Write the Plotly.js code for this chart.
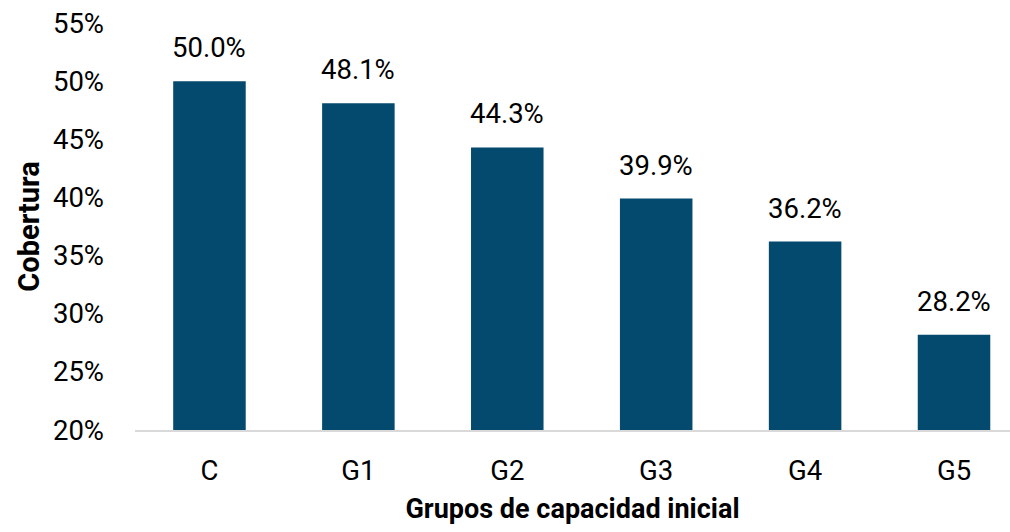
<!DOCTYPE html>
<html>
<head>
<meta charset="utf-8">
<script src="https://cdn.plot.ly/plotly-3.0.1.min.js"></script>
<style>html,body{margin:0;padding:0;background:#fff;}#chart{width:1010px;height:532px;}</style>
</head>
<body>
<div id="chart"></div>
<script>
var categories = ["C", "G1", "G2", "G3", "G4", "G5"];
var coverage = [50.0, 48.1, 44.3, 39.9, 36.2, 28.2];
var yTicks = [20, 25, 30, 35, 40, 45, 50, 55];
var yTickLabels = ["20%", "25%", "30%", "35%", "40%", "45%", "50%", "55%"];

var FONT = 'Roboto, "Liberation Sans", Arial, sans-serif';
var FS = 27.5;

var trace = {
  type: "bar",
  x: categories,
  y: coverage.map(function(v){ return v - 20; }),
  base: 20,
  width: 0.487,
  marker: {color: "#034a6e", line: {width: 0}},
  hoverinfo: "none"
};

var annotations = categories.map(function(c, i){
  return {
    x: c, y: coverage[i], xref: "x", yref: "y",
    text: coverage[i].toFixed(1) + "%",
    showarrow: false, yanchor: "bottom", yshift: 15,
    font: {family: FONT, size: FS, color: "#000"}
  };
});

var layout = {
  width: 1010, height: 532,
  margin: {l: 135, r: 0, t: 22.75, b: 101.5, pad: 0},
  paper_bgcolor: "#fff", plot_bgcolor: "#fff",
  showlegend: false,
  font: {family: FONT, size: FS, color: "#000"},
  xaxis: {
    type: "category",
    range: [-0.5, 5.376],
    showgrid: false, zeroline: false,
    showline: true, linecolor: "#d9d9d9", linewidth: 2,
    ticks: "", ticklabelstandoff: 15,
    tickfont: {family: FONT, size: FS, color: "#000"},
    title: {text: "<b>Grupos de capacidad inicial</b>", standoff: 13,
            font: {family: FONT, size: 27, color: "#000"}}
  },
  yaxis: {
    range: [20, 55],
    tickvals: yTicks, ticktext: yTickLabels,
    showgrid: false, zeroline: false, showline: false,
    ticks: "", ticklabelstandoff: 30,
    tickfont: {family: FONT, size: FS, color: "#000"},
    title: {text: "<b>Cobertura</b>", standoff: 4,
            font: {family: FONT, size: 29, color: "#000"}}
  },
  annotations: annotations
};

Plotly.newPlot("chart", [trace], layout, {displayModeBar: false, staticPlot: true});
</script>
</body>
</html>
